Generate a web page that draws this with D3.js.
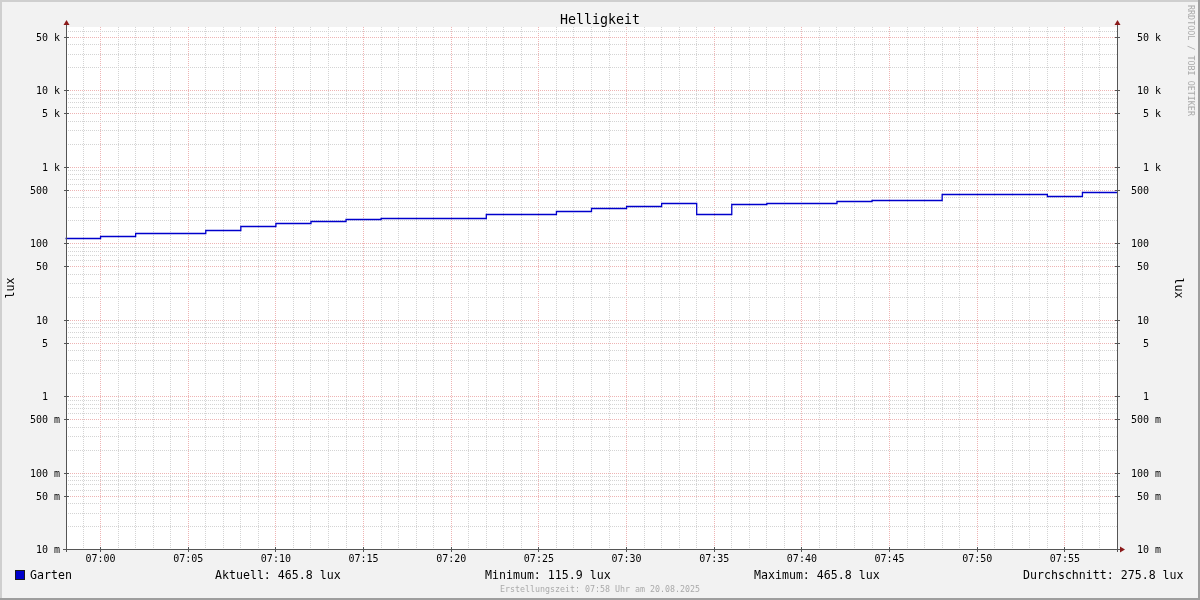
<!DOCTYPE html>
<html><head><meta charset="utf-8">
<script src="https://cdn.jsdelivr.net/npm/d3@7"></script>
<style>
body{margin:0;background:#f2f2f2;overflow:hidden}
text{font-family:"DejaVu Sans Mono",monospace}
.gray{opacity:0.999}
</style>
</head><body>
<svg id="chart" width="1200" height="600"></svg>
<script>
// ---- data ----
const stepTimes = ["06:58","07:00","07:02","07:04","07:06","07:08","07:10","07:12","07:14","07:16",
  "07:18","07:20","07:22","07:24","07:26","07:28","07:30","07:32","07:34","07:36",
  "07:38","07:40","07:42","07:44","07:46","07:48","07:50","07:52","07:54","07:56"];
const luxValues = [115.9,126,135,135,147,166,182,193,205,211,
  211,211,240,240,261,286,303,333,240,322,
  333,333,353,364,364,436,436,436,410,465.8];
const timeStart = "06:58";
const timeEnd = "07:58";
const xTickLabels = ["07:00","07:05","07:10","07:15","07:20","07:25","07:30","07:35","07:40","07:45","07:50","07:55"];
const yLabelValues = [0.01,0.05,0.1,0.5,1,5,10,50,100,500,1000,5000,10000,50000];
const yLabelTexts = ["10 m","50 m","100 m","500 m","1  ","5  ","10  ","50  ","100  ","500  ","1 k","5 k","10 k","50 k"];
const yMin = 0.01, yMax = 67500;
const title = "Helligkeit";
const unitLabel = "lux";
const seriesName = "Garten";
const legendItems = ["Aktuell: 465.8 lux","Minimum: 115.9 lux","Maximum: 465.8 lux","Durchschnitt: 275.8 lux"];
const footer = "Erstellungszeit: 07:58 Uhr am 20.08.2025";
const watermark = "RRDTOOL / TOBI OETIKER";

// ---- drawing ----
const W = 1200, H = 600;
const svg = d3.select("#chart");
const parse = d3.timeParse("%H:%M");
const x = d3.scaleTime().domain([parse(timeStart), parse(timeEnd)]).range([65.5, 1117.5]);
const y = d3.scaleLog().domain([yMin, yMax]).range([549, 27]);
const px = v => Math.floor(x(v)) + 0.5;
const py = v => Math.round(y(v)) + 0.5;

// background & border
svg.append("rect").attr("width", W).attr("height", H).attr("fill", "#f2f2f2");
svg.append("path").attr("d", `M0,${H} V0 H${W}`).attr("fill","none").attr("stroke","#cfcfcf").attr("stroke-width",4);
svg.append("path").attr("d", `M0,${H} H${W} V0`).attr("fill","none").attr("stroke","#9e9e9e").attr("stroke-width",4);

// plot canvas
svg.append("rect").attr("x", 66).attr("y", 27).attr("width", 1117 - 66).attr("height", 549 - 27).attr("fill", "#ffffff");

const minorCol = "#d4d4d4", majorCol = "#eeb4b4";
const grid = svg.append("g");
// vertical minor grid (every minute) and major (every 5 min)
const minutes = d3.timeMinute.range(parse(timeStart), d3.timeMinute.offset(parse(timeEnd), 1));
minutes.forEach(t => {
  const xx = px(t);
  if (xx <= 67 || xx >= 1117) return;
  const major = t.getMinutes() % 5 === 0;
  grid.append("line").attr("x1", xx).attr("x2", xx).attr("y1", 27).attr("y2", 549)
    .attr("stroke", major ? majorCol : minorCol).attr("stroke-dasharray", "1,1");
});
// horizontal grid
for (let e = -2; e <= 4; e++) {
  for (let m = 1; m <= 9; m++) {
    const v = m * Math.pow(10, e);
    if (v < yMin || v > yMax) continue;
    const yy = py(v);
    if (yy < 27 || yy > 549) continue;
    const major = (m === 1 || m === 5);
    grid.append("line").attr("x1", 66).attr("x2", 1117).attr("y1", yy).attr("y2", yy)
      .attr("stroke", major ? majorCol : minorCol).attr("stroke-dasharray", "1,1");
  }
}

// data line (step)
const pts = stepTimes.map((t, i) => ({t: parse(t), v: luxValues[i]}));
pts.push({t: parse(timeEnd), v: luxValues[luxValues.length - 1]});
const line = d3.line().x(d => x(d.t)).y(d => Math.round(y(d.v)) + 0.5).curve(d3.curveStepAfter);
svg.append("path").datum(pts).attr("d", line).attr("fill", "none").attr("stroke", "#0000cc").attr("stroke-width", 1.3);

// axes
const axisCol = "#555555", arrowCol = "#8b1a1a";
svg.append("line").attr("x1", 66.5).attr("x2", 66.5).attr("y1", 552).attr("y2", 24).attr("stroke", axisCol);
svg.append("line").attr("x1", 1117.5).attr("x2", 1117.5).attr("y1", 552).attr("y2", 24).attr("stroke", axisCol);
svg.append("line").attr("x1", 63).attr("x2", 1121).attr("y1", 549.5).attr("y2", 549.5).attr("stroke", axisCol);
svg.append("path").attr("d", "M63.5,25 L69.5,25 L66.5,20 Z").attr("fill", arrowCol);
svg.append("path").attr("d", "M1114.5,25 L1120.5,25 L1117.5,20 Z").attr("fill", arrowCol);
svg.append("path").attr("d", "M1120,546.5 L1120,552.5 L1125,549.5 Z").attr("fill", arrowCol);

const labels = svg.append("g").attr("class", "gray");
// y ticks & labels
yLabelValues.forEach((v, i) => {
  const yy = py(v);
  svg.append("line").attr("x1", 64).attr("x2", 69).attr("y1", yy).attr("y2", yy).attr("stroke", axisCol);
  svg.append("line").attr("x1", 1115).attr("x2", 1120).attr("y1", yy).attr("y2", yy).attr("stroke", axisCol);
  labels.append("text").attr("x", 60).attr("y", yy + 3.5).attr("text-anchor", "end")
    .attr("xml:space", "preserve").style("white-space", "pre")
    .attr("font-size", 10).attr("fill", "#000").text(yLabelTexts[i]);
  labels.append("text").attr("x", 1161).attr("y", yy + 3.5).attr("text-anchor", "end")
    .attr("xml:space", "preserve").style("white-space", "pre")
    .attr("font-size", 10).attr("fill", "#000").text(yLabelTexts[i]);
});

// x ticks & labels
minutes.forEach(t => {
  if (t.getMinutes() % 5 !== 0) return;
  const xx = px(t);
  svg.append("line").attr("x1", xx).attr("x2", xx).attr("y1", 547).attr("y2", 552).attr("stroke", axisCol);
});
xTickLabels.forEach(s => {
  labels.append("text").attr("x", x(parse(s))).attr("y", 562).attr("text-anchor", "middle")
    .attr("font-size", 10).attr("fill", "#000").text(s);
});

// title
labels.append("text").attr("x", 600).attr("y", 24).attr("text-anchor", "middle").attr("font-size", 13.3).attr("fill", "#000").text(title);

// unit labels
labels.append("text").attr("transform", "translate(14,288) rotate(-90)").attr("text-anchor", "middle")
  .attr("font-size", 11.6).attr("fill", "#000").text(unitLabel);
labels.append("text").attr("transform", "translate(1175,288) rotate(90)").attr("text-anchor", "middle")
  .attr("font-size", 11.6).attr("fill", "#000").text(unitLabel);

// watermark
labels.append("text").attr("transform", "translate(1188,5) rotate(90)").attr("text-anchor", "start")
  .attr("font-size", 8.4).attr("fill", "#aaaaaa").text(watermark);

// legend
svg.append("rect").attr("x", 15.5).attr("y", 570.5).attr("width", 9).attr("height", 9).attr("fill", "#0000cc").attr("stroke", "#1a1a1a");
labels.append("text").attr("x", 30).attr("y", 579).attr("font-size", 11.6).attr("fill", "#000").text(seriesName);
const legendX = [215, 485, 754, 1023];
legendItems.forEach((s, i) => {
  labels.append("text").attr("x", legendX[i]).attr("y", 579).attr("font-size", 11.6).attr("fill", "#000").text(s);
});

// footer
labels.append("text").attr("x", 600).attr("y", 592).attr("text-anchor", "middle").attr("font-size", 8.3).attr("fill", "#aaaaaa").text(footer);
</script>
</body></html>
